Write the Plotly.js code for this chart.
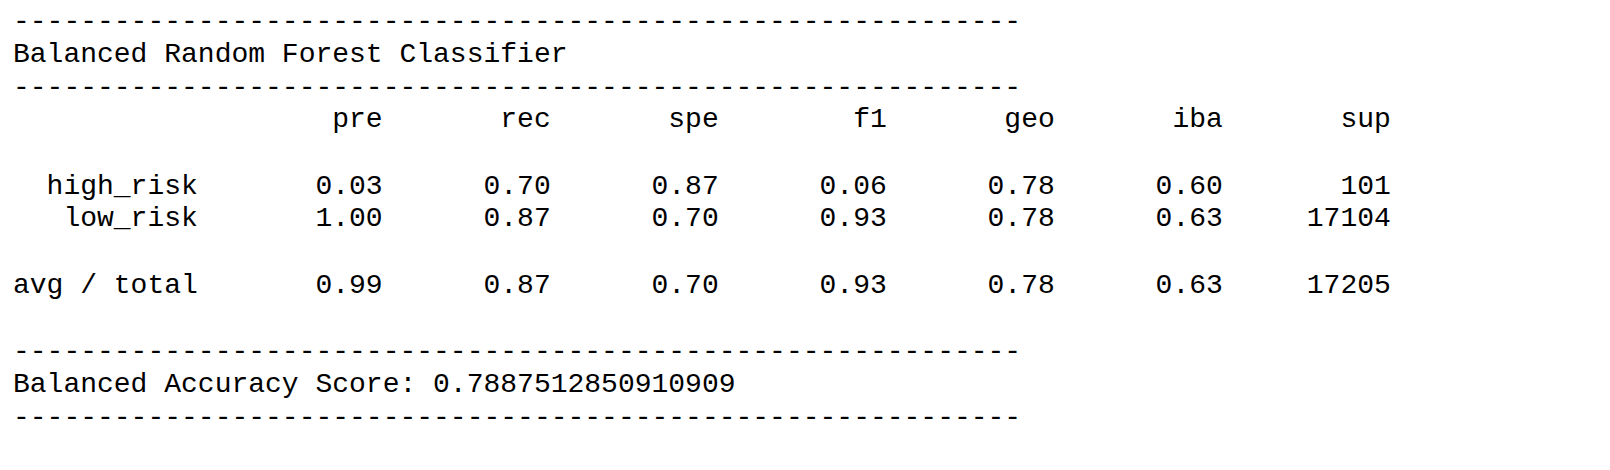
<!DOCTYPE html>
<html>
<head>
<script src="https://cdn.plot.ly/plotly-3.0.1.min.js"></script>
<style>body{margin:0;background:#fff}</style>
</head>
<body>
<div id="report" style="width:1610px;height:470px"></div>
<script>
var title = "Balanced Random Forest Classifier"
var columns = ["pre", "rec", "spe", "f1", "geo", "iba", "sup"]
var classes = ["high_risk", "low_risk"]
var highRisk = ["0.03", "0.70", "0.87", "0.06", "0.78", "0.60", "101"]
var lowRisk = ["1.00", "0.87", "0.70", "0.93", "0.78", "0.63", "17104"]
var avgTotal = ["0.99", "0.87", "0.70", "0.93", "0.78", "0.63", "17205"]
var scoreLabel = "Balanced Accuracy Score:"
var score = "0.7887512850910909"

var dashes = "-".repeat(60)
function row(label, vals) {
    return label.padStart(11) + " " + vals.map(function (v) { return v.padStart(10) }).join("")
}
var lines = [
    dashes,
    title,
    dashes,
    row("", columns),
    "",
    row(classes[0], highRisk),
    row(classes[1], lowRisk),
    "",
    row("avg / total", avgTotal),
    "",
    dashes,
    scoreLabel + " " + score,
    dashes
]

var H = 470
var annotations = lines.map(function (t, i) {
    return {
        text: t.replace(/ /g, "\u00a0"),
        xref: "paper", yref: "paper",
        x: 11 / 1610, y: 1 - (21 + 33 * i) / H,
        xanchor: "left", yanchor: "middle",
        showarrow: false,
        font: { family: "Liberation Mono, Courier New, monospace", size: 28, color: "#000" }
    }
})

var layout = {
    width: 1610, height: 470,
    margin: { l: 0, r: 0, t: 0, b: 0 },
    paper_bgcolor: "#fff", plot_bgcolor: "#fff",
    xaxis: { visible: false, range: [0, 1] },
    yaxis: { visible: false, range: [0, 1] },
    annotations: annotations,
    showlegend: false
}

Plotly.newPlot("report", [], layout, { staticPlot: true })
</script>
</body>
</html>
